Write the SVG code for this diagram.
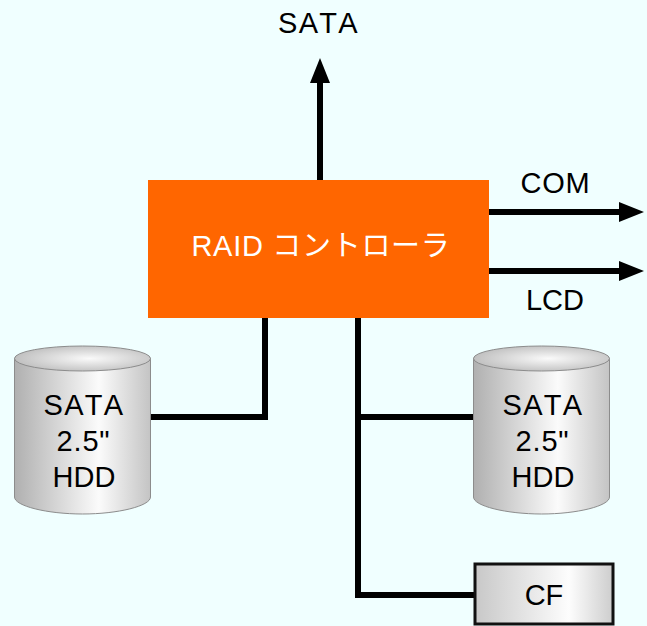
<svg xmlns="http://www.w3.org/2000/svg" width="647" height="626" viewBox="0 0 647 626">
<style>
text{font-family:"Liberation Sans","Noto Sans CJK JP",sans-serif;font-size:29px;fill:#000;text-anchor:middle;font-kerning:none}
.s{letter-spacing:1.300px}
.v{letter-spacing:.8px}
.c{fill:none;stroke:#000;stroke-width:6}
.d{stroke:#8c8c8c;stroke-width:1}
</style>
<defs>
<linearGradient id="body" x1="0" x2="1" y1="0" y2="0">
<stop offset="0" stop-color="#b0b0b0"/><stop offset=".1" stop-color="#bcbcbc"/><stop offset=".62" stop-color="#fbfbfb"/><stop offset="1" stop-color="#c4c4c4"/>
</linearGradient>
<radialGradient id="top" cx=".55" cy=".5" r=".55">
<stop offset="0" stop-color="#fafafa"/><stop offset="1" stop-color="#c0c0c0"/>
</radialGradient>
<linearGradient id="cf" x1="0" x2="1" y1="0" y2="0">
<stop offset="0" stop-color="#c8c8c8"/><stop offset=".68" stop-color="#fdfdfd"/><stop offset="1" stop-color="#cdcdcd"/>
</linearGradient>
<marker id="a" markerUnits="userSpaceOnUse" markerWidth="26" markerHeight="22" refX="1" refY="10" orient="auto"><path d="M0 0L25 10L0 20Z" fill="#000"/></marker>
</defs>
<rect width="647" height="626" fill="#f0ffff"/>
<g id="connectors">
<path class="c" d="M320 181V82" marker-end="url(#a)"/>
<path class="c" d="M488 212H620" marker-end="url(#a)"/>
<path class="c" d="M488 271H620" marker-end="url(#a)"/>
<path class="c" d="M265 317V417H151"/>
<path class="c" d="M358 317V595H475"/>
<path class="c" d="M358 417H473"/>
</g>
<g id="controller">
<rect x="148" y="180" width="341" height="138" fill="#ff6600"/>
<text x="321" y="256" style="font-size:29px;fill:#fff;letter-spacing:.7px">RAID コントローラ</text>
</g>
<g id="hdd1">
<path class="d" d="M14.500 358V497C14.500 506 47 514 82.500 514S150.500 506 150.500 497V358Z" fill="url(#body)"/>
<ellipse class="d" cx="82.500" cy="358.500" rx="68" ry="12.500" fill="url(#top)"/>
<text class="s" x="84" y="415">SATA</text><text class="v" x="83.500" y="451">2.5"</text><text x="84" y="487">HDD</text>
</g>
<g id="hdd2">
<path class="d" d="M473.500 358V497C473.500 506 506 514 541.500 514S609.500 506 609.500 497V358Z" fill="url(#body)"/>
<ellipse class="d" cx="541.500" cy="358.500" rx="68" ry="12.500" fill="url(#top)"/>
<text class="s" x="543" y="415">SATA</text><text class="v" x="542.500" y="451">2.5"</text><text x="543" y="487">HDD</text>
</g>
<g id="cf-card">
<rect x="475" y="564" width="138" height="60" fill="url(#cf)" stroke="#111" stroke-width="3"/>
<text x="544" y="605">CF</text>
</g>
<g id="labels">
<text class="s" x="318.500" y="33">SATA</text>
<text x="555.500" y="193" style="letter-spacing:.7px">COM</text>
<text x="555" y="310">LCD</text>
</g>
</svg>
